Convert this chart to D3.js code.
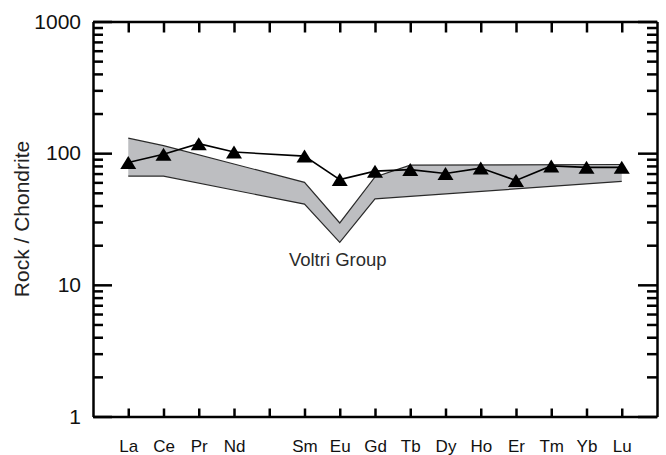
<!DOCTYPE html>
<html>
<head>
<meta charset="utf-8">
<script src="https://cdn.jsdelivr.net/npm/d3@7"></script>
<style>
  body { margin: 0; background: #fff; }
  svg { display: block; font-family: "Liberation Sans", Arial, sans-serif; }
</style>
</head>
<body>
<script>
// REE elements (Pm kept as an empty slot on the axis)
var elements = ["La", "Ce", "Pr", "Nd", "Pm", "Sm", "Eu", "Gd", "Tb", "Dy", "Ho", "Er", "Tm", "Yb", "Lu"];

// sample, normalised to chondrite
var sampleEl = ["La", "Ce", "Pr", "Nd", "Sm", "Eu", "Gd", "Tb", "Dy", "Ho", "Er", "Tm", "Yb", "Lu"];
var sampleVal = [85, 98, 118, 102, 95, 63, 73, 75, 70, 77, 62, 80, 78, 78];

// Voltri Group field (upper and lower limits)
var bandEl = ["La", "Ce", "Sm", "Eu", "Gd", "Tb", "Lu"];
var bandUpper = [130, 114, 60, 29.5, 66, 81, 82];
var bandLower = [67, 67, 41, 21, 45, 47, 61];

var majorTicks = [1, 10, 100, 1000];
var minorTicks = [2, 3, 4, 5, 6, 7, 8, 9, 20, 30, 40, 50, 60, 70, 80, 90, 200, 300, 400, 500, 600, 700, 800, 900];

//SVG dimension variables
var w = 666, h = 455;
var plotL = 93, plotR = 657, plotT = 21.5, plotB = 416.5;

var svg = d3.select("body")
    .append("svg")
    .attr("width", w)
    .attr("height", h);

//scales
var xScale = d3.scalePoint()
    .domain(elements)
    .range([plotL, plotR])
    .padding(1);

var yScale = d3.scaleLog()
    .domain([1, 1000])
    .range([plotB, plotT]);

//band area
var band = bandEl.map(function(e, i){
    return {el: e, lo: bandLower[i], hi: bandUpper[i]};
});

svg.append("path")
    .datum(band)
    .attr("d", d3.area()
        .x(function(d){ return xScale(d.el); })
        .y0(function(d){ return yScale(d.lo); })
        .y1(function(d){ return yScale(d.hi); }))
    .attr("fill", "#bdbec1")
    .attr("stroke", "none");

["hi", "lo"].forEach(function(k){
    svg.append("path")
        .datum(band)
        .attr("d", d3.line()
            .x(function(d){ return xScale(d.el); })
            .y(function(d){ return yScale(d[k]); }))
        .attr("fill", "none")
        .attr("stroke", "#2a2a2a")
        .attr("stroke-width", 1.2);
});

//sample line
var sample = sampleEl.map(function(e, i){
    return {el: e, v: sampleVal[i]};
});

svg.append("path")
    .datum(sample)
    .attr("d", d3.line()
        .x(function(d){ return xScale(d.el); })
        .y(function(d){ return yScale(d.v); }))
    .attr("fill", "none")
    .attr("stroke", "#000")
    .attr("stroke-width", 1.6);

//triangles
var tw = 16, th = 13;
svg.selectAll(".tri")
    .data(sample)
    .enter()
    .append("path")
    .attr("class", "tri")
    .attr("transform", function(d){
        return "translate(" + xScale(d.el) + "," + yScale(d.v) + ")";
    })
    .attr("d", "M0," + (-th / 2) + "L" + (tw / 2) + "," + (th / 2) + "L" + (-tw / 2) + "," + (th / 2) + "Z")
    .attr("fill", "#000");

//label for the field
svg.append("text")
    .attr("x", xScale("Eu") - 2)
    .attr("y", 266)
    .attr("text-anchor", "middle")
    .style("font-size", "18.5px")
    .attr("fill", "#2b2b2b")
    .text("Voltri Group");

//axes (domain lines kept, they make the frame)
function styleAxis(g){
    g.select(".domain").attr("stroke", "#000").attr("stroke-width", 2.5);
    g.selectAll(".tick line").attr("stroke", "#000").attr("stroke-width", 2.5);
    g.selectAll("text").attr("fill", "#111").style("font-family", "'Liberation Sans', Arial, sans-serif");
}

svg.append("g")
    .attr("transform", "translate(0," + plotB + ")")
    .call(d3.axisBottom(xScale).tickFormat(function(d){ return d === "Pm" ? "" : d; }).tickSizeInner(-8).tickSizeOuter(0).tickPadding(23))
    .call(styleAxis)
    .selectAll("text").style("font-size", "17px");

svg.append("g")
    .attr("transform", "translate(0," + plotT + ")")
    .call(d3.axisTop(xScale).tickFormat(function(){ return ""; }).tickSizeInner(-11).tickSizeOuter(0))
    .call(styleAxis);

var allY = majorTicks.concat(minorTicks);
function isMajor(d){ return majorTicks.indexOf(d) >= 0; }

//left axis, majors labelled, minors shorter
var yLeft = svg.append("g")
    .attr("transform", "translate(" + plotL + ",0)")
    .call(d3.axisLeft(yScale).tickValues(allY)
        .tickFormat(function(d){ return isMajor(d) ? d3.format("d")(d) : ""; })
        .tickSizeInner(-19).tickSizeOuter(0).tickPadding(12))
    .call(styleAxis);
yLeft.selectAll(".tick line").attr("x2", function(d){ return isMajor(d) ? 19 : 10; });
yLeft.selectAll("text").style("font-size", "21px");

//right axis
var yRight = svg.append("g")
    .attr("transform", "translate(" + plotR + ",0)")
    .call(d3.axisRight(yScale).tickValues(allY).tickFormat(function(){ return ""; }).tickSizeInner(-19).tickSizeOuter(0))
    .call(styleAxis);
yRight.selectAll(".tick line").attr("x2", function(d){ return isMajor(d) ? -19 : -10; });

//y axis title
svg.append("text")
    .attr("transform", "translate(29," + ((plotT + plotB) / 2) + ") rotate(-90)")
    .attr("text-anchor", "middle")
    .style("font-size", "21px")
    .attr("fill", "#222")
    .text("Rock / Chondrite");
</script>
</body>
</html>
